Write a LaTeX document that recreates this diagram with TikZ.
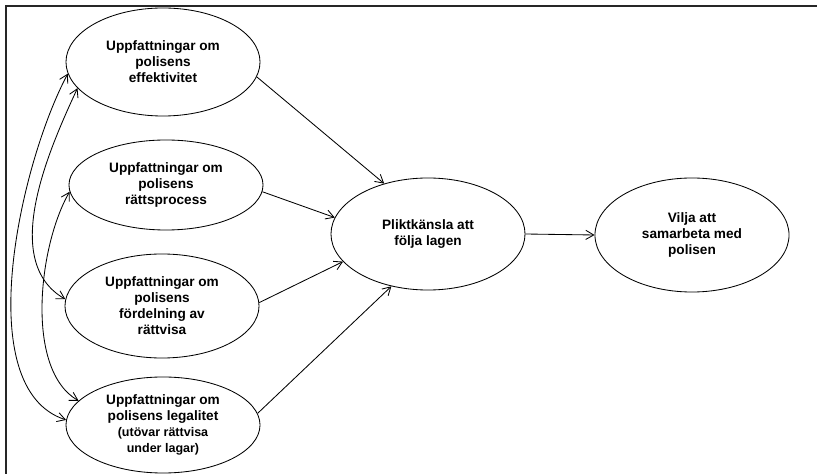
\documentclass[tikz,border=0pt]{standalone}
\usepackage{fontspec}
\setmainfont{Liberation Sans}
\usetikzlibrary{shapes.geometric,arrows.meta}

\newcommand{\smallnote}{\fontsize{8.9}{10.7}\selectfont}

\begin{document}
\begin{tikzpicture}[
    x=0.025cm, y=0.025cm,
    oval/.style={ellipse, draw, line width=0.6pt, inner sep=0pt, minimum width=4.85cm,
        align=center, font=\bfseries\fontsize{9.7}{11.4}\selectfont},
    link/.style={-{Straight Barb[length=2mm,width=2.3mm]}, line width=0.6pt},
    corr/.style={{Straight Barb[length=2mm,width=2.3mm]}-{Straight Barb[length=2mm,width=2.3mm]}, line width=0.6pt}
]
\useasboundingbox (0,0) rectangle (817,474);

% --- Frame (top and left) ---
\draw[line width=1.4pt, black!85] (6,0) -- (6,468) -- (817,468);

% --- Perceptions (left column) ---
\node[oval, minimum height=2.7cm] (eff) at (163,412) {Uppfattningar om\\polisens\\effektivitet};
\node[oval, minimum height=2.25cm] (proc) at (166,289) {Uppfattningar om\\polisens\\rättsprocess};
\node[oval, minimum height=2.6cm] (fair) at (162,168) {Uppfattningar om\\polisens\\fördelning av\\rättvisa};
\node[oval, minimum height=2.4cm] (legal) at (163,49) {Uppfattningar om\\polisens legalitet\\{\smallnote(utövar rättvisa}\\{\smallnote under lagar)}};

% --- Duty and cooperation ---
\node[oval, minimum height=2.8cm] (duty) at (428,240) {Pliktkänsla att\\följa lagen};
\node[oval, minimum height=2.85cm] (coop) at (692,239) {Vilja att\\samarbeta med\\polisen};

% --- Paths ---
\draw[link] (eff.351) -- (duty.131);
\draw[link] (proc.356) -- (duty.170);
\draw[link] (fair.2) -- (duty.198);
\draw[link] (legal.7) -- (duty.235);
\draw[link] (duty.east) -- (coop.west);

% --- Correlations ---
\draw[corr] (eff.187) to[out=242, in=162, looseness=0.75] (legal.177);
\draw[corr] (eff.197) to[out=245, in=150, looseness=0.9] (fair.176);
\draw[corr] (proc.184) to[out=240, in=150, looseness=0.76] (legal.164);

\end{tikzpicture}
\end{document}
